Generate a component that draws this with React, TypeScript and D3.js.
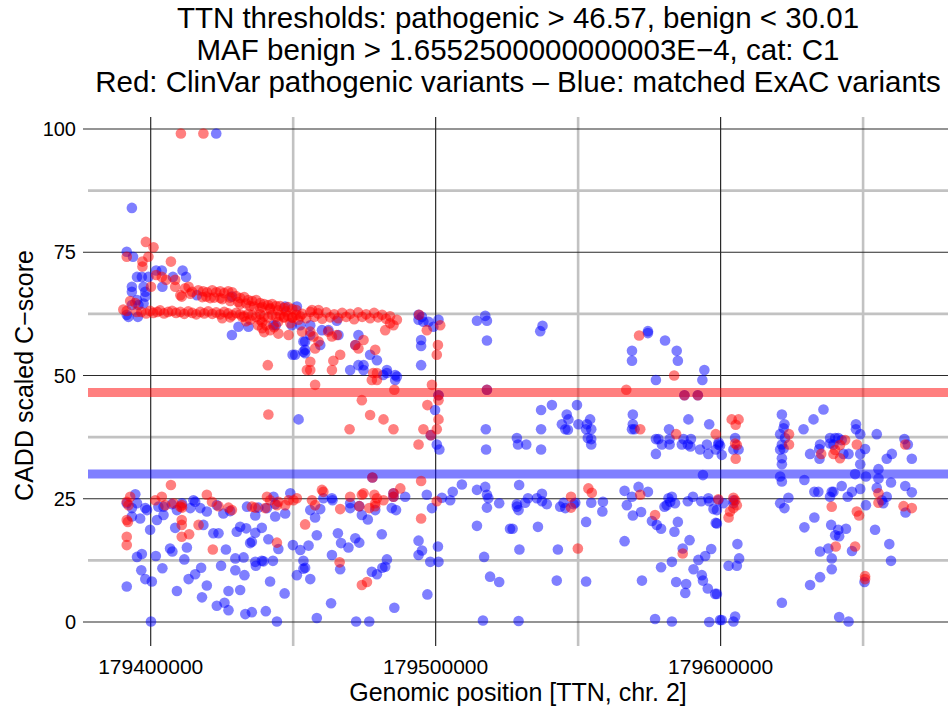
import React from "react";
import * as d3 from "d3";

// Chart text
const titleLines = [
  "TTN thresholds: pathogenic > 46.57, benign < 30.01",
  "MAF benign > 1.6552500000000003E\u22124, cat: C1",
  "Red: ClinVar pathogenic variants \u2013 Blue: matched ExAC variants",
];
const xAxisTitle = "Genomic position [TTN, chr. 2]";
const yAxisTitle = "CADD scaled C\u2212score";

// Axis ticks
const xTicks = [179400000, 179500000, 179600000];
const xMinorTicks = [179450000, 179550000, 179650000];
const yTicks = [0, 25, 50, 75, 100];
const yMinorTicks = [12.5, 37.5, 62.5, 87.5];

// Thresholds
const pathogenicThreshold = 46.57;
const benignThreshold = 30.01;

// Matched ExAC variants: [genomic position, CADD scaled C-score]
const exacVariants: [number, number][] = [
  [179423000,99.1],[179393400,84.0],[179391600,75.1],[179393800,74.1],[179401900,71.3],[179403900,71.3],[179411200,71.3],[179412400,70.0],[179407800,70.0],[179395200,70.0],[179396900,70.0],[179399200,70.0],[179393400,68.0],[179393400,67.0],[179397500,68.0],[179398100,67.0],[179398100,66.0],[179404100,68.0],[179395200,65.3],[179397500,64.6],[179393400,64.3],[179395700,64.3],[179391600,62.3],[179395500,61.9],[179392200,61.9],[179416200,66.3],[179428500,66.0],[179430800,59.9],[179434300,59.9],[179428500,58.2],[179443900,60.2],[179447200,64.0],[179451300,64.0],[179449800,54.2],[179449500,60.2],[179443100,60.2],[179453600,56.9],[179453600,54.8],[179452500,60.2],[179456000,60.2],[179456000,58.2],[179454200,56.9],[179459500,56.2],[179454200,55.2],[179454200,54.5],[179450700,54.2],[179460100,59.2],[179462400,59.2],[179465900,58.2],[179465300,61.1],[179472900,58.2],[179471800,56.2],[179470000,51.1],[179474700,51.1],[179474700,52.1],[179472900,52.1],[179477000,54.2],[179479400,53.1],[179482900,51.1],[179482900,50.5],[179485800,50.1],[179481600,50.1],[179486400,49.8],[179485800,49.1],[179494000,62.3],[179495200,61.9],[179494000,61.3],[179495700,60.9],[179497500,60.9],[179499200,59.9],[179501000,61.3],[179494900,57.2],[179494900,56.0],[179494900,52.1],[179514500,61.1],[179517400,62.1],[179518000,61.1],[179518000,57.1],[179451900,41.1],[179499800,43.0],[179501300,35.0],[179500400,36.0],[179518000,47.1],[179517600,39.1],[179517700,35.0],[179537500,60.1],[179536700,59.0],[179574500,59.0],[179574500,58.6],[179580500,57.1],[179584600,55.0],[179585000,53.0],[179568900,55.0],[179568900,53.0],[179594300,51.1],[179593600,49.1],[179577300,49.1],
  [179537000,43.0],[179540800,44.0],[179549600,44.0],[179546000,42.1],[179546600,41.1],[179544300,40.1],[179545500,39.1],[179546400,39.0],[179537000,39.1],[179550100,40.1],[179553100,40.1],[179554200,41.1],[179554600,39.1],[179552800,39.1],[179553400,37.3],[179554600,37.1],[179554600,36.0],[179528500,37.3],[179528900,36.0],[179531800,36.0],[179537000,35.0],[179569200,42.1],[179569200,40.1],[179568900,39.1],[179569800,39.1],[179577300,37.1],[179578200,37.1],[179579400,36.0],[179577300,34.1],[179581900,39.1],[179582100,37.1],[179582100,36.0],[179588700,41.1],[179587000,37.1],[179589600,37.1],[179586400,36.0],[179588500,36.0],[179589400,35.6],[179592800,35.0],[179595200,36.0],[179595700,34.1],[179596000,40.1],[179598300,35.0],[179599200,36.0],[179593800,29.8],[179529300,27.8],[179528500,23.9],[179528500,23.4],[179529100,22.7],[179531400,24.2],[179532400,25.1],[179535500,25.1],[179537300,26.0],[179537300,24.5],[179539000,23.9],[179543700,23.4],[179545500,23.1],[179544900,24.2],[179548400,23.9],[179549000,24.2],[179554600,24.2],[179558700,24.4],[179558500,22.4],[179552800,20.3],[179535900,19.3],[179527000,18.9],[179529400,14.7],[179542900,14.7],[179566300,26.6],[179567100,23.7],[179568900,25.4],[179571200,27.4],[179574500,26.4],[179569200,21.6],[179572100,22.3],[179566300,16.4],[179581700,25.1],[179582900,25.4],[179582300,24.4],[179581100,23.7],[179580300,23.4],[179584000,24.1],[179588500,24.5],[179590300,25.4],[179593200,24.5],[179595700,25.1],[179596000,24.5],[179597500,22.9],[179598300,20.1],[179575900,20.5],[179577600,19.7],[179579100,18.9],[179583800,18.3],[179585000,20.3],[179589100,16.6],[179586700,14.9],[179592200,12.6],[179594600,13.4],[179596700,14.8],[179590500,10.7],[179593400,9.5],[179593800,8.4],[179595500,6.8],[179598100,5.7],[179582900,12.2],[179579100,11.1],[179584400,8.1],[179587900,7.7],[179587600,5.9],[179542500,8.4],[179552800,8.2],[179572400,8.4],[179529100,0.2],[179577000,0.6],[179582900,0.1],[179596000,0.0],[179599800,0.4],[179587300,46.0],[179592000,46.0],
  [179599300,36.4],[179599800,35.8],[179600400,33.9],[179604500,35.0],[179605100,37.3],[179606300,35.0],[179621500,42.1],[179622400,40.1],[179622100,39.3],[179620900,38.1],[179622600,37.3],[179621500,36.0],[179622100,35.2],[179620900,35.0],[179621500,33.2],[179621500,32.0],[179620900,29.5],[179621500,28.5],[179629400,28.8],[179629100,39.1],[179632600,41.1],[179636100,43.1],[179631400,34.1],[179634600,35.1],[179634900,36.0],[179634700,33.1],[179638400,37.3],[179640200,37.3],[179641300,37.3],[179642500,36.9],[179639600,36.0],[179638400,36.2],[179643100,34.1],[179644900,34.1],[179647500,40.1],[179647500,39.1],[179649000,38.1],[179650700,35.1],[179649000,34.1],[179649000,32.0],[179654800,38.1],[179664500,37.1],[179665700,36.0],[179667100,33.1],[179660100,34.1],[179658300,33.1],[179655400,31.0],[179655400,29.1],[179659800,28.3],[179647200,30.0],[179651000,29.5],[179632900,26.4],[179634300,26.4],[179638400,25.4],[179639000,26.4],[179639600,26.4],[179642500,27.6],[179644600,25.4],[179646100,26.4],[179649000,27.0],[179651000,23.7],[179654800,27.2],[179656600,24.7],[179658300,25.4],[179657100,24.1],[179664800,27.6],[179667100,26.3],[179664900,22.2],[179599200,24.7],[179601000,24.1],[179598700,22.7],[179598700,20.0],[179604500,24.7],[179604500,24.1],[179620900,24.1],[179622400,23.1],[179623800,25.2],[179629400,19.2],[179632900,21.2],[179638800,19.7],[179641300,18.7],[179644000,18.9],[179640200,17.6],[179641600,17.4],[179634900,14.3],[179637800,14.9],[179639000,12.9],[179646100,14.4],[179639000,10.7],[179634900,9.1],[179631400,7.5],[179621500,3.9],[179641600,1.0],[179644900,0.1],[179654200,18.7],[179659200,15.8],[179659800,12.4],[179650500,8.1],[179605900,15.8],[179606500,12.9],[179602800,11.4],[179605700,11.4],[179598700,5.7],[179600400,0.4],[179604500,0.1],[179605100,1.1],
  [179394600,25.9],[179395200,24.1],[179391600,24.1],[179393400,23.1],[179393400,21.4],[179396300,21.0],[179398100,23.1],[179398700,22.7],[179399800,18.7],[179402200,20.7],[179404500,21.7],[179402700,23.4],[179404500,23.4],[179407400,23.9],[179411000,24.1],[179409200,22.7],[179413900,23.1],[179415000,24.7],[179415600,24.4],[179417400,23.1],[179419700,22.4],[179408600,19.1],[179418500,19.7],[179423200,23.7],[179425500,22.0],[179422000,18.0],[179423800,18.0],[179426400,14.7],[179406800,14.9],[179407600,14.3],[179412700,15.1],[179395200,13.2],[179396900,13.8],[179401800,13.4],[179411800,12.7],[179396700,10.5],[179398100,8.7],[179400400,8.2],[179404100,10.9],[179391600,7.2],[179413300,8.7],[179415600,9.7],[179417700,11.0],[179419700,7.4],[179424700,11.4],[179418000,5.0],[179409200,6.3],[179423200,3.3],[179425900,3.9],[179427300,2.4],[179427300,6.3],[179431400,6.5],[179429700,10.5],[179429700,12.9],[179432600,13.1],[179432900,9.5],[179433200,1.6],[179435500,2.0],[179440400,2.2],[179444300,0.1],[179400100,0.1],[179447000,5.8],[179441900,8.2],[179451300,9.5],[179452500,14.6],[179449900,15.6],[179444800,14.8],[179436700,12.2],[179439000,12.4],[179439600,12.3],[179442900,12.4],[179436900,11.4],[179441300,16.8],[179430200,18.3],[179431400,19.3],[179433500,19.0],[179435500,16.3],[179434900,16.0],[179436700,18.1],[179439000,19.1],[179443100,25.4],[179443700,23.9],[179449000,26.1],[179447200,22.0],[179443700,21.4],[179433800,23.4],[179437800,23.2],[179436700,21.6],[179440800,23.1],[179427900,22.5],
  [179460600,25.1],[179463600,25.1],[179463800,24.7],[179489300,25.4],[179496900,25.8],[179502200,25.2],[179505100,24.7],[179506000,26.4],[179509200,27.9],[179514500,26.8],[179517400,27.4],[179518000,25.8],[179518500,25.1],[179522300,24.1],[179498700,23.1],[179518000,23.2],[179456000,22.7],[179457700,21.2],[179459500,22.9],[179470000,24.1],[179470000,23.1],[179478800,22.7],[179474100,21.7],[179476200,20.8],[179484600,23.1],[179486100,22.7],[179514500,19.5],[179526100,18.9],[179458300,17.6],[179465700,18.0],[179466800,16.0],[179469400,15.1],[179471800,17.0],[179473200,16.1],[179481100,17.8],[179455400,15.5],[179463600,13.6],[179453600,12.4],[179454200,11.0],[179453600,10.8],[179456000,8.7],[179466500,10.7],[179494000,16.5],[179495200,14.5],[179494000,13.6],[179500800,15.3],[179498100,12.2],[179501000,12.2],[179481300,11.0],[179482900,12.7],[179482300,11.2],[179477600,10.2],[179479400,9.7],[179517000,13.2],[179519100,9.2],[179522300,8.1],[179463300,3.8],[179485500,2.9],[179497100,5.6],[179458300,0.8],[179472100,0.1],[179476700,0.1],[179516600,0.3],[179477800,29.3],[179485200,26.1],[179485200,25.4],[179498300,37.9],[179501000,46.0],[179473200,23.5],
];

// ClinVar pathogenic variants: [genomic position, CADD scaled C-score]
const clinvarVariants: [number, number][] = [
  [179410600,99.1],[179418500,99.1],
  [179391600,74.1],[179398300,77.1],[179401000,76.0],[179399200,74.1],[179397100,73.1],[179397100,72.1],[179407100,73.1],[179403900,70.0],[179401900,70.4],[179405400,69.4],[179408600,69.4],[179408600,68.0],[179400100,68.0],[179410900,66.0],[179412100,67.7],[179413300,68.0],[179414500,67.0],[179392800,65.1],[179391600,63.1],[179394600,64.7],[179410400,66.3],[179413900,66.6],[179390400,63.4],[179395100,62.9],
  [179396700,62.9],[179398400,62.6],[179399800,63.1],[179400900,62.7],[179402300,62.9],[179403300,63.2],[179404700,62.6],[179406100,62.9],[179407500,63.1],[179408900,62.7],[179410400,62.9],[179411800,62.5],[179413200,63.0],[179414600,62.7],[179416000,62.4],[179417400,62.9],[179418800,62.6],[179420200,63.0],[179421600,62.5],[179423000,62.8],[179424400,62.4],[179425800,62.9],[179427200,62.6],[179428600,62.2],[179430000,62.7],[179431400,62.4],[179432800,62.0],[179434200,62.5],[179435600,62.2],[179437000,61.9],[179438400,62.4],[179439800,62.0],[179441200,61.8],[179442600,62.3],[179444000,61.9],[179445400,62.2],[179446800,61.7],[179448200,62.1],[179449700,61.8],[179451100,62.3],[179452500,62.0],
  [179416700,67.3],[179418400,67.1],[179419800,66.9],[179421600,67.3],[179423000,66.9],[179424400,67.1],[179425800,66.7],[179427200,67.1],[179428600,66.9],[179430000,66.1],[179431400,65.7],[179432800,65.9],[179434200,65.3],[179435600,65.1],[179437000,65.3],[179438400,64.7],[179439800,64.5],[179441200,64.3],[179442600,64.5],[179444000,64.1],[179445400,64.1],[179446800,63.7],[179448200,63.9],[179449700,63.5],[179451100,63.3],[179418100,65.9],[179420900,65.7],[179424400,65.7],[179427900,65.1],[179431400,64.5],[179434900,64.1],[179438400,63.7],[179441900,63.5],
  [179419500,66.0],[179422300,65.8],[179425100,65.5],[179427900,65.8],[179430700,64.9],[179433500,64.6],[179436300,64.0],[179439100,63.9],[179441900,63.7],[179444700,63.2],[179447500,63.0],
  [179425100,61.6],[179427900,61.8],[179433500,61.0],[179439100,60.8],[179444700,60.9],[179449000,60.6],
  [179437700,60.2],[179439100,59.6],[179440500,60.2],[179441900,59.2],[179443300,59.8],[179439800,58.8],[179438400,61.3],[179434900,61.3],[179432100,61.9],[179446800,61.9],[179449700,61.7],[179451800,61.3],[179444800,58.5],[179448400,58.2],[179441100,52.1],[179454800,51.1],
  [179453200,62.5],[179454600,61.6],[179456000,62.9],[179457400,61.9],[179458800,62.6],[179460200,61.5],[179461600,62.8],[179463000,61.8],[179464400,62.4],[179465800,61.6],[179467200,62.7],[179468600,61.9],[179470000,62.5],[179471400,61.4],[179472800,62.8],[179474200,61.9],[179475600,62.4],[179477000,61.6],[179478400,62.7],[179479800,61.8],[179481200,62.3],[179482600,61.5],[179484000,62.0],[179456600,63.3],[179458900,63.3],
  [179453100,58.9],[179456000,58.9],[179457100,57.9],[179458900,56.9],[179457700,55.5],[179456000,52.8],[179456000,51.1],[179462300,58.9],[179463600,57.9],[179465300,58.2],[179474700,57.2],[179471800,56.2],[179472900,55.5],[179466500,54.2],[179464100,53.0],[179463600,51.1],[179478800,55.2],[179478100,50.5],[179479400,50.5],[179482300,59.2],[179485200,60.2],[179486400,61.3],[179484000,60.6],[179494200,62.3],[179496900,59.2],[179501600,60.2],[179500800,56.2],[179500400,54.2],
  [179457700,48.1],[179477600,49.1],[179479400,49.1],[179485500,47.1],[179474100,45.0],[179477000,42.0],[179481700,41.1],[179469800,39.1],[179485200,39.1],[179498700,48.1],[179501000,46.0],[179501000,45.0],[179497100,44.0],[179501000,41.1],[179500400,39.1],[179495700,39.1],[179498300,37.9],[179494000,36.0],[179518000,47.1],[179477800,29.3],[179494900,28.6],[179487600,27.1],[179460100,26.8],[179460600,26.4],[179451300,25.1],[179456600,24.7],[179457700,23.7],[179470000,25.4],[179474100,25.8],[179474700,26.1],[179478500,25.8],[179479400,25.1],[179481700,24.7],[179485200,26.1],[179485200,25.4],[179500400,24.5],[179466500,22.9],[179473200,23.5],[179476700,23.1],[179478800,23.5],[179478800,24.1],[179454200,19.8],[179494900,21.0],[179466300,12.1],[179475900,8.1],[179474100,7.5],
  [179441300,42.1],[179407100,27.8],[179392800,25.4],[179392200,23.7],[179391600,24.4],[179391600,20.7],[179392000,20.3],[179391600,17.3],[179391600,15.6],[179401600,24.7],[179403900,25.4],[179405100,23.7],[179410400,23.4],[179410900,23.7],[179411000,23.2],[179408000,24.1],[179410900,20.7],[179410900,19.7],[179410900,17.3],[179413500,17.8],[179416800,19.7],[179419700,25.8],[179421500,24.4],[179423800,23.5],[179427300,23.2],[179428500,22.7],[179421800,14.7],[179444300,16.1],[179440800,25.4],[179441900,24.7],[179444800,24.4],[179444300,23.7],[179447200,23.7],[179448400,24.7],[179450100,24.7],[179435500,23.4],[179436700,23.2],[179440200,23.1],
  [179583700,50.0],[179566900,47.1],[179587300,46.0],[179592000,46.0],[179571800,39.1],[179584400,38.1],[179598300,38.1],[179553600,27.1],[179554800,26.2],[179547500,25.4],[179547500,23.2],[179549900,14.9],[179571800,25.8],[179577000,21.7],[179586700,13.9],[179599200,24.9],[179571400,58.1],
  [179603900,41.1],[179606300,41.1],[179605300,40.0],[179605100,36.2],[179605700,35.9],[179605300,33.1],[179624000,38.1],[179624000,36.0],[179635300,34.1],[179640200,34.9],[179639600,34.1],[179641900,33.2],[179643700,36.9],[179641900,35.9],[179647800,36.0],[179664800,36.0],[179639000,23.4],[179655400,26.1],[179655400,24.2],[179664200,23.5],[179667100,23.1],[179647800,22.4],[179648600,21.6],[179604500,25.2],[179605100,24.7],[179605700,23.7],[179604500,23.1],[179603300,22.4],[179602800,21.2],[179640400,15.3],[179647200,15.3],[179650700,9.3],[179650700,8.7],
];

const WIDTH = 951;
const HEIGHT = 710;
const PLOT_LEFT = 88;
const PLOT_RIGHT = 948;
const PLOT_TOP = 117;
const PLOT_BOTTOM = 646;
const FONT = "'Liberation Sans', Arial, Helvetica, sans-serif";

export default function App() {
  const x = d3.scaleLinear().domain([179378000, 179679800]).range([PLOT_LEFT, PLOT_RIGHT]);
  const y = d3.scaleLinear().domain([0, 100]).range([622, 129]);
  const r = 5.3;
  const centerX = (PLOT_LEFT + PLOT_RIGHT) / 2;

  return (
    <svg
      width={WIDTH}
      height={HEIGHT}
      viewBox={`0 0 ${WIDTH} ${HEIGHT}`}
      style={{ position: "absolute", left: 0, top: 0, background: "#fff" }}
      fontFamily={FONT}
    >
      <rect x={0} y={0} width={WIDTH} height={HEIGHT} fill="#fff" />

      {/* minor grid */}
      {xMinorTicks.map((t) => (
        <line key={`xm${t}`} x1={x(t)} x2={x(t)} y1={PLOT_TOP} y2={PLOT_BOTTOM} stroke="#c2c2c2" strokeWidth={2.6} />
      ))}
      {yMinorTicks.map((t) => (
        <line key={`ym${t}`} x1={PLOT_LEFT} x2={PLOT_RIGHT} y1={y(t)} y2={y(t)} stroke="#c2c2c2" strokeWidth={2.6} />
      ))}

      {/* major grid */}
      {xTicks.map((t) => (
        <line key={`x${t}`} x1={x(t)} x2={x(t)} y1={PLOT_TOP} y2={PLOT_BOTTOM} stroke="#2a2a2a" strokeWidth={1.2} />
      ))}
      {yTicks.map((t) => (
        <line key={`y${t}`} x1={83} x2={PLOT_RIGHT} y1={y(t)} y2={y(t)} stroke="#2a2a2a" strokeWidth={1.2} />
      ))}

      {/* threshold bands */}
      <line x1={PLOT_LEFT} x2={PLOT_RIGHT} y1={y(pathogenicThreshold)} y2={y(pathogenicThreshold)} stroke="rgb(255,0,0)" strokeOpacity={0.5} strokeWidth={9} />
      <line x1={PLOT_LEFT} x2={PLOT_RIGHT} y1={y(benignThreshold)} y2={y(benignThreshold)} stroke="rgb(0,0,255)" strokeOpacity={0.5} strokeWidth={9} />

      {/* variants */}
      <g fill="rgb(0,0,255)" fillOpacity={0.5}>
        {exacVariants.map(([p, s], i) => (
          <circle key={`b${i}`} cx={x(p)} cy={y(s)} r={r} />
        ))}
      </g>
      <g fill="rgb(255,0,0)" fillOpacity={0.5}>
        {clinvarVariants.map(([p, s], i) => (
          <circle key={`r${i}`} cx={x(p)} cy={y(s)} r={r} />
        ))}
      </g>

      {/* tick labels */}
      {yTicks.map((t) => (
        <text key={`yl${t}`} x={76} y={y(t) + 7} fontSize={20} textAnchor="end" fill="#000">
          {t}
        </text>
      ))}
      {xTicks.map((t) => (
        <text key={`xl${t}`} x={x(t)} y={674} fontSize={21} textAnchor="middle" fill="#000">
          {t}
        </text>
      ))}

      {/* axis titles */}
      <text x={centerX} y={701} fontSize={25} textAnchor="middle" fill="#000">
        {xAxisTitle}
      </text>
      <text transform={`translate(33, ${y(50)}) rotate(-90)`} fontSize={25} textAnchor="middle" fill="#000">
        {yAxisTitle}
      </text>

      {/* title */}
      {titleLines.map((line, i) => (
        <text key={`t${i}`} x={centerX} y={28 + i * 32} fontSize={29.5} textAnchor="middle" fill="#000">
          {line}
        </text>
      ))}
    </svg>
  );
}
